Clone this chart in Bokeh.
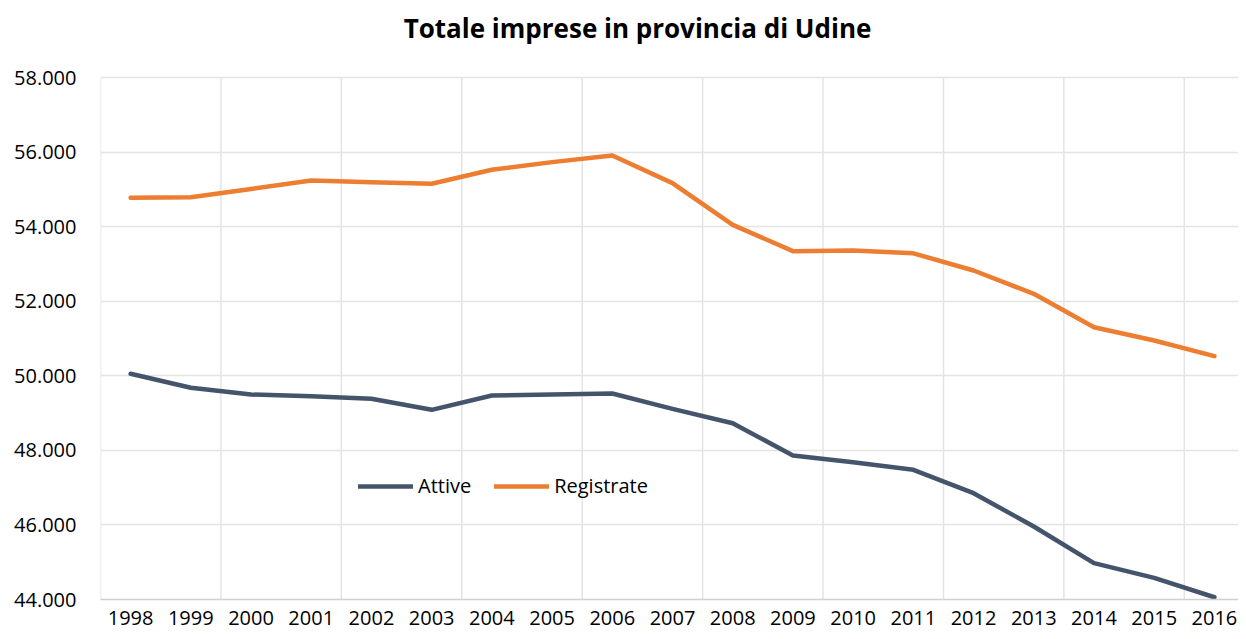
from bokeh.plotting import figure
from bokeh.models import FixedTicker, Legend, LegendItem, ColumnDataSource, Label
from bokeh.embed import file_html
from bokeh.resources import INLINE

years = ["1998", "1999", "2000", "2001", "2002", "2003", "2004", "2005", "2006", "2007",
         "2008", "2009", "2010", "2011", "2012", "2013", "2014", "2015", "2016"]
attive = [50053, 49678, 49498, 49453, 49382, 49087, 49471, 49498, 49525, 49114,
          48728, 47862, 47683, 47478, 46851, 45958, 44974, 44580, 44060]
registrate = [54775, 54790, 55010, 55237, 55192, 55149, 55525, 55730, 55908, 55166,
              54049, 53342, 53360, 53285, 52824, 52198, 51303, 50946, 50526]
y_ticks = [44000, 46000, 48000, 50000, 52000, 54000, 56000, 58000]
y_labels = ["44.000", "46.000", "48.000", "50.000", "52.000", "54.000", "56.000", "58.000"]
title_text = "Totale imprese in provincia di Udine"

FONT = "Open Sans"
idx = list(range(len(years)))
src = ColumnDataSource(dict(x=idx, a=attive, r=registrate))

# layout geometry (pixels)
W, H = 1238, 631
LEFT, TOP, BOTTOM = 100, 5, 32
PLOT_TOP_PX, PLOT_BOTTOM_PX = 77, 599          # where the value axis spans
units_per_px = (y_ticks[-1] - y_ticks[0]) / (PLOT_BOTTOM_PX - PLOT_TOP_PX)
y_end = y_ticks[-1] + (PLOT_TOP_PX - TOP) * units_per_px
x_end = 18.4
px_per_cat = (W - LEFT) / (x_end + 0.5)

p = figure(width=W, height=H, output_backend="svg", toolbar_location=None,
           x_range=(-0.5, x_end), y_range=(y_ticks[0], y_end),
           min_border_left=LEFT, min_border_right=0, min_border_top=TOP, min_border_bottom=BOTTOM)
p.outline_line_color = None
p.background_fill_color = "white"

# vertical gridlines every two categories, only across the value span
gx = [-0.5 + 2 * k for k in range(10)]
p.segment(x0=gx, x1=gx, y0=[y_ticks[0]] * len(gx), y1=[y_ticks[-1]] * len(gx),
          line_color="#E4E4E4", line_width=1.5)

la = p.line("x", "a", source=src, line_color="#44546A", line_width=4.5, line_cap="round", line_join="round")
lr = p.line("x", "r", source=src, line_color="#ED7D31", line_width=4.5, line_cap="round", line_join="round")

# axes
p.xaxis.ticker = FixedTicker(ticks=idx)
p.xaxis.major_label_overrides = {i: y for i, y in enumerate(years)}
p.yaxis.ticker = FixedTicker(ticks=y_ticks)
p.yaxis.major_label_overrides = {t: l for t, l in zip(y_ticks, y_labels)}
for ax in (p.xaxis, p.yaxis):
    ax.major_tick_line_color = None
    ax.minor_tick_line_color = None
    ax.major_label_text_font = FONT
    ax.major_label_text_font_size = "20px"
    ax.major_label_text_color = "#000000"
p.yaxis.axis_line_color = None
p.xaxis.axis_line_color = "#D0D0D0"
p.xaxis.axis_line_width = 1.5
p.xaxis.major_label_standoff = 5
p.yaxis.major_label_standoff = 18

p.xgrid.grid_line_color = None
p.ygrid.grid_line_color = "#E4E4E4"
p.ygrid.grid_line_width = 1.5

# title
title_cx = (637 - LEFT) / px_per_cat - 0.5
title_cy = y_ticks[-1] + (PLOT_TOP_PX - 27) * units_per_px
p.add_layout(Label(x=title_cx, y=title_cy, text=title_text,
                   text_font=FONT, text_font_size="26px", text_font_style="bold",
                   text_color="#000000", text_align="center", text_baseline="middle"))

legend = Legend(items=[LegendItem(label="Attive", renderers=[la]),
                       LegendItem(label="Registrate", renderers=[lr])],
                orientation="horizontal", location=(258, 100),
                border_line_color=None, background_fill_alpha=0,
                padding=0, margin=0, glyph_width=55, label_standoff=5, spacing=23,
                label_text_font=FONT, label_text_font_size="20px", label_text_color="#000000")
p.add_layout(legend)

open("out.html", "w").write(file_html(p, INLINE))
